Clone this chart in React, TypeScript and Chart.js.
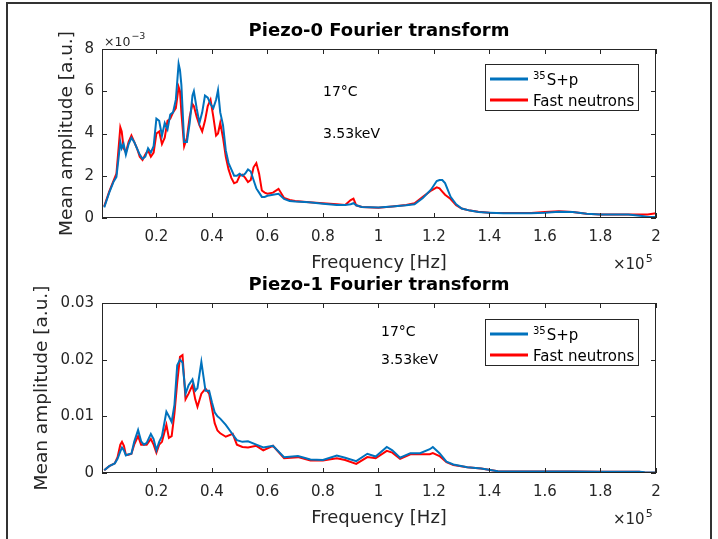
import { useEffect, useRef } from 'react';
import { Chart, registerables } from 'chart.js';

Chart.register(...registerables);

// ---------- data (frequency in units of 10^5 Hz) ----------
const freqPiezo0 = [0.012, 0.03, 0.045, 0.056, 0.065, 0.07, 0.075, 0.082, 0.09, 0.1, 0.11, 0.12, 0.13, 0.14, 0.15, 0.16, 0.17, 0.18, 0.19, 0.2, 0.21, 0.22, 0.23, 0.24, 0.25, 0.26, 0.27, 0.28, 0.285, 0.29, 0.3, 0.31, 0.32, 0.33, 0.335, 0.345, 0.355, 0.365, 0.375, 0.385, 0.395, 0.405, 0.415, 0.422, 0.43, 0.44, 0.45, 0.46, 0.47, 0.48, 0.49, 0.5, 0.51, 0.52, 0.53, 0.54, 0.55, 0.56, 0.57, 0.58, 0.59, 0.6, 0.62, 0.64, 0.66, 0.68, 0.7, 0.75, 0.8, 0.85, 0.88, 0.9, 0.91, 0.92, 0.94, 1.0, 1.05, 1.1, 1.13, 1.16, 1.19, 1.21, 1.22, 1.23, 1.24, 1.26, 1.28, 1.3, 1.33, 1.36, 1.4, 1.45, 1.5, 1.55, 1.6, 1.65, 1.7, 1.75, 1.8, 1.85, 1.9, 1.95, 1.97, 2.0];
// mean amplitude, x10^-3 a.u.
const piezo0SP = [0.5, 1.2, 1.7, 1.95, 3.0, 3.6, 3.3, 3.5, 3.0, 3.5, 3.8, 3.6, 3.3, 3.0, 2.8, 2.9, 3.3, 3.1, 3.4, 4.7, 4.6, 3.9, 4.5, 4.2, 4.9, 5.0, 5.6, 7.3, 7.0, 6.3, 3.6, 3.6, 4.5, 5.8, 6.0, 5.2, 4.5, 5.0, 5.8, 5.7, 5.4, 5.2, 5.6, 6.05, 5.0, 4.4, 3.2, 2.6, 2.3, 2.0, 2.0, 2.1, 2.0, 2.1, 2.3, 2.2, 1.8, 1.4, 1.2, 1.0, 1.0, 1.05, 1.1, 1.15, 0.9, 0.8, 0.78, 0.75, 0.68, 0.62, 0.62, 0.65, 0.7, 0.6, 0.52, 0.5, 0.55, 0.6, 0.65, 0.95, 1.35, 1.75, 1.8, 1.8, 1.65, 1.0, 0.65, 0.45, 0.35, 0.28, 0.25, 0.22, 0.22, 0.23, 0.25, 0.3, 0.28, 0.2, 0.17, 0.17, 0.16, 0.1, 0.05, 0.05];
const piezo0FN = [0.55, 1.25, 1.75, 2.1, 3.5, 4.3, 4.1, 3.3, 3.1, 3.6, 3.9, 3.6, 3.3, 2.9, 2.75, 3.0, 3.2, 2.9, 3.1, 4.0, 4.1, 3.5, 3.8, 4.6, 4.7, 5.0, 5.2, 6.2, 6.0, 5.0, 3.4, 3.8, 4.8, 5.4, 5.3, 4.8, 4.4, 4.1, 4.6, 5.3, 5.6, 4.8, 3.9, 4.0, 4.5, 3.8, 2.9, 2.3, 1.9, 1.65, 1.7, 2.0, 2.05, 1.9, 1.7, 1.8, 2.4, 2.6, 2.1, 1.3, 1.2, 1.15, 1.2, 1.38, 0.95, 0.85, 0.8, 0.75, 0.7, 0.65, 0.62, 0.85, 0.92, 0.6, 0.52, 0.48, 0.55, 0.62, 0.7, 1.0, 1.3, 1.45, 1.4, 1.25, 1.1, 0.9, 0.6, 0.45, 0.35, 0.3, 0.25, 0.24, 0.24, 0.24, 0.28, 0.32, 0.28, 0.2, 0.17, 0.17, 0.17, 0.17, 0.17, 0.22];

const freqPiezo1 = [0.012, 0.03, 0.05, 0.06, 0.07, 0.076, 0.083, 0.09, 0.1, 0.11, 0.12, 0.134, 0.145, 0.155, 0.165, 0.18, 0.19, 0.2, 0.21, 0.22, 0.236, 0.245, 0.255, 0.265, 0.275, 0.285, 0.294, 0.305, 0.316, 0.33, 0.34, 0.348, 0.362, 0.377, 0.39, 0.4, 0.41, 0.42, 0.43, 0.45, 0.475, 0.49, 0.51, 0.53, 0.56, 0.585, 0.62, 0.66, 0.71, 0.755, 0.8, 0.85, 0.88, 0.92, 0.96, 0.99, 1.03, 1.05, 1.078, 1.115, 1.15, 1.185, 1.196, 1.22, 1.245, 1.27, 1.32, 1.37, 1.43, 1.5, 1.6, 1.7, 1.8, 1.9, 1.94, 1.96, 2.0];
// mean amplitude, a.u.
const piezo1SP = [0.0005, 0.0012, 0.0017, 0.0025, 0.0038, 0.0045, 0.004, 0.0031, 0.0033, 0.0034, 0.0055, 0.0076, 0.0056, 0.005, 0.0053, 0.0069, 0.006, 0.004, 0.0055, 0.0065, 0.0108, 0.01, 0.009, 0.012, 0.019, 0.02, 0.0195, 0.014, 0.0155, 0.0165, 0.0145, 0.015, 0.0196, 0.0145, 0.0145, 0.0125, 0.0107, 0.01, 0.0096, 0.0085, 0.0068, 0.0058, 0.0055, 0.0056, 0.005, 0.0045, 0.0048, 0.0028, 0.003, 0.0024, 0.0023, 0.0031, 0.0027, 0.0021, 0.0034, 0.0029, 0.0046, 0.004, 0.0027, 0.0035, 0.0035, 0.0042, 0.0046, 0.0035, 0.002, 0.0015, 0.001, 0.0008, 0.0003, 0.00025, 0.00025, 0.00025, 0.0002, 0.0002, 0.0002, 0.00015, 0.0001];
const piezo1FN = [0.0005, 0.0012, 0.0017, 0.0028, 0.005, 0.0055, 0.0048, 0.0032, 0.0032, 0.0034, 0.005, 0.0065, 0.005, 0.005, 0.005, 0.006, 0.005, 0.0036, 0.005, 0.0055, 0.0085, 0.0062, 0.0065, 0.0105, 0.016, 0.0205, 0.0208, 0.013, 0.014, 0.0155, 0.013, 0.0117, 0.014, 0.0149, 0.014, 0.0115, 0.0088, 0.0075, 0.007, 0.0064, 0.0069, 0.005, 0.0046, 0.0045, 0.0048, 0.004, 0.0048, 0.0026, 0.0028, 0.0022, 0.0022, 0.0026, 0.0023, 0.0016, 0.0028, 0.0026, 0.0039, 0.0036, 0.0025, 0.0033, 0.0033, 0.0033, 0.0035, 0.003, 0.0019, 0.0014, 0.001, 0.0008, 0.0003, 0.00025, 0.00025, 0.00025, 0.0002, 0.0002, 0.0002, 0.00005, 0.00005];

const xTickValues = [0.2, 0.4, 0.6, 0.8, 1.0, 1.2, 1.4, 1.6, 1.8, 2.0];
const xTickLabels = ['0.2', '0.4', '0.6', '0.8', '1', '1.2', '1.4', '1.6', '1.8', '2'];
const yTickValues0 = [0, 2, 4, 6, 8];
const yTickLabels0 = ['0', '2', '4', '6', '8'];
const yTickValues1 = [0, 0.01, 0.02, 0.03];
const yTickLabels1 = ['0', '0.01', '0.02', '0.03'];
const panelTitles = ['Piezo-0 Fourier transform', 'Piezo-1 Fourier transform'];
const xAxisTitle = 'Frequency [Hz]';
const yAxisTitle = 'Mean amplitude [a.u.]';
const seriesNames = ['S+p', 'Fast neutrons'];
const seriesSup = '35';
const annotationLines = ['17°C', '3.53keV'];

const BLUE = '#0072BD';
const RED = '#FF0000';
const AX = '#262626';
const FONT = '"DejaVu Sans", sans-serif';

type Panel = {
  freq: number[];
  sp: number[];
  fn: number[];
  yTicks: number[];
  yLabels: string[];
  title: string;
  canvasTop: number;
  canvasHeight: number;
  padTop: number;
  areaBottom: number;
  yExp: boolean;
  yTitleX: number;
  annX: number;
  annY: number[];
  legendTop: number;
};

const panels: Panel[] = [
  {
    freq: freqPiezo0, sp: piezo0SP, fn: piezo0FN,
    yTicks: yTickValues0, yLabels: yTickLabels0, title: panelTitles[0],
    canvasTop: 0, canvasHeight: 275, padTop: 49, areaBottom: 218, yExp: true, yTitleX: 67,
    annX: 323, annY: [92, 134], legendTop: 64,
  },
  {
    freq: freqPiezo1, sp: piezo1SP, fn: piezo1FN,
    yTicks: yTickValues1, yLabels: yTickLabels1, title: panelTitles[1],
    canvasTop: 254, canvasHeight: 285, padTop: 49, areaBottom: 219, yExp: false, yTitleX: 42,
    annX: 381, annY: [78, 106], legendTop: 65,
  },
];

function drawSup(ctx: CanvasRenderingContext2D, base: string, sup: string, x: number, y: number, size: number, supSize: number, supRise: number) {
  ctx.textAlign = 'left';
  ctx.textBaseline = 'alphabetic';
  ctx.font = `${size}px ${FONT}`;
  ctx.fillText(base, x, y);
  const w = ctx.measureText(base).width;
  ctx.font = `${supSize}px ${FONT}`;
  ctx.fillText(sup, x + w + 1, y - supRise);
}

function makeDecor(p: Panel) {
  return {
    id: 'decor',
    afterDatasetsDraw(chart: any) {
      const { ctx, chartArea: a, scales } = chart;
      const xs = scales.x;
      const ys = scales.y;
      ctx.save();
      // axes box
      ctx.strokeStyle = AX;
      ctx.lineWidth = 1;
      ctx.strokeRect(Math.round(a.left) + 0.5, Math.round(a.top) + 0.5, Math.round(a.right - a.left) - 1, Math.round(a.bottom - a.top) - 1);
      // inward ticks
      ctx.beginPath();
      xTickValues.forEach((v) => {
        const px = Math.round(xs.getPixelForValue(v)) + 0.5;
        ctx.moveTo(px, a.bottom);
        ctx.lineTo(px, a.bottom - 5);
        ctx.moveTo(px, a.top);
        ctx.lineTo(px, a.top + 5);
      });
      p.yTicks.forEach((v) => {
        const py = Math.round(ys.getPixelForValue(v)) + 0.5;
        ctx.moveTo(a.left, py);
        ctx.lineTo(a.left + 5, py);
        ctx.moveTo(a.right, py);
        ctx.lineTo(a.right - 5, py);
      });
      ctx.stroke();

      ctx.fillStyle = '#000';
      const cx = (a.left + a.right) / 2;
      // title
      ctx.font = `bold 18px ${FONT}`;
      ctx.textAlign = 'center';
      ctx.textBaseline = 'middle';
      ctx.fillText(p.title, cx, 31);

      ctx.fillStyle = AX;
      // x axis title
      ctx.font = `18px ${FONT}`;
      ctx.fillText(xAxisTitle, cx, a.bottom + 45);
      // x exponent
      drawSup(ctx, '×10', '5', a.right - 43, a.bottom + 51, 15, 11, 7);
      // y axis title
      ctx.save();
      ctx.translate(p.yTitleX, (a.top + a.bottom) / 2);
      ctx.rotate(-Math.PI / 2);
      ctx.font = `18.5px ${FONT}`;
      ctx.textAlign = 'center';
      ctx.textBaseline = 'middle';
      ctx.fillText(yAxisTitle, 0, 0);
      ctx.restore();
      if (p.yExp) {
        drawSup(ctx, '×10', '−3', a.left + 2, a.top - 3, 12.5, 9.5, 7);
      }
      // annotations
      ctx.fillStyle = '#000';
      ctx.font = `14px ${FONT}`;
      ctx.textAlign = 'left';
      ctx.textBaseline = 'middle';
      annotationLines.forEach((t, i) => ctx.fillText(t, p.annX, p.annY[i]));

      // legend
      const lx = 485, lw = 154, ly = p.legendTop, lh = 47;
      ctx.fillStyle = '#fff';
      ctx.fillRect(lx, ly, lw, lh);
      ctx.strokeStyle = AX;
      ctx.lineWidth = 1;
      ctx.strokeRect(lx + 0.5, ly + 0.5, lw - 1, lh - 1);
      const rows = [ly + 15, ly + 36];
      const colors = [BLUE, RED];
      rows.forEach((ry, i) => {
        ctx.strokeStyle = colors[i];
        ctx.lineWidth = 3;
        ctx.beginPath();
        ctx.moveTo(lx + 5, ry);
        ctx.lineTo(lx + 43, ry);
        ctx.stroke();
      });
      ctx.fillStyle = '#000';
      ctx.font = `10px ${FONT}`;
      ctx.textAlign = 'left';
      ctx.textBaseline = 'alphabetic';
      ctx.fillText(seriesSup, lx + 48, rows[0] + 0);
      const supW = ctx.measureText(seriesSup).width;
      ctx.font = `15px ${FONT}`;
      ctx.fillText(seriesNames[0], lx + 49 + supW, rows[0] + 6);
      ctx.fillText(seriesNames[1], lx + 48, rows[1] + 6);
      ctx.restore();
    },
  };
}

function PanelChart({ p }: { p: Panel }) {
  const ref = useRef<HTMLCanvasElement | null>(null);
  useEffect(() => {
    if (!ref.current) return;
    const mk = (f: number[], v: number[]) => f.map((x, i) => ({ x, y: v[i] }));
    const chart = new Chart(ref.current, {
      type: 'line',
      data: {
        datasets: [
          { label: seriesSup + seriesNames[0], data: mk(p.freq, p.sp), borderColor: BLUE, borderWidth: 2, pointRadius: 0, tension: 0, fill: false },
          { label: seriesNames[1], data: mk(p.freq, p.fn), borderColor: RED, borderWidth: 2, pointRadius: 0, tension: 0, fill: false },
        ],
      },
      options: {
        animation: false,
        responsive: false,
        devicePixelRatio: 1,
        layout: { padding: { left: 0, top: p.padTop, right: 62, bottom: 0 } },
        plugins: { legend: { display: false }, title: { display: false }, tooltip: { enabled: false } },
        scales: {
          x: {
            type: 'linear',
            min: 0.004,
            max: 2,
            grid: { display: false, drawTicks: false },
            border: { display: false },
            afterBuildTicks: (s: any) => { s.ticks = xTickValues.map((v) => ({ value: v })); },
            afterFit: (s: any) => { s.height = p.canvasHeight - p.areaBottom; },
            ticks: {
              padding: 10,
              color: AX,
              font: { family: FONT, size: 15 },
              maxRotation: 0,
              autoSkip: false,
              callback: (_v: any, i: number) => xTickLabels[i],
            },
          },
          y: {
            type: 'linear',
            min: p.yTicks[0],
            max: p.yTicks[p.yTicks.length - 1],
            grid: { display: false, drawTicks: false },
            border: { display: false },
            afterBuildTicks: (s: any) => { s.ticks = p.yTicks.map((v) => ({ value: v })); },
            afterFit: (s: any) => { s.width = 102; },
            ticks: {
              padding: 8,
              color: AX,
              font: { family: FONT, size: 15 },
              autoSkip: false,
              callback: (_v: any, i: number) => p.yLabels[i],
            },
          },
        },
      },
      plugins: [makeDecor(p)],
    } as any);
    return () => chart.destroy();
  }, [p]);
  return (
    <canvas
      ref={ref}
      width={718}
      height={p.canvasHeight}
      style={{ position: 'absolute', left: 0, top: p.canvasTop, width: 718, height: p.canvasHeight }}
    />
  );
}

export default function App() {
  return (
    <div style={{ position: 'absolute', left: 0, top: 0, width: 718, height: 539, overflow: 'hidden', background: '#fff' }}>
      <PanelChart p={panels[0]} />
      <PanelChart p={panels[1]} />
      <div style={{ position: 'absolute', left: 6, top: 2, width: 706, height: 560, border: '2px solid #333', boxSizing: 'border-box', pointerEvents: 'none' }} />
    </div>
  );
}
